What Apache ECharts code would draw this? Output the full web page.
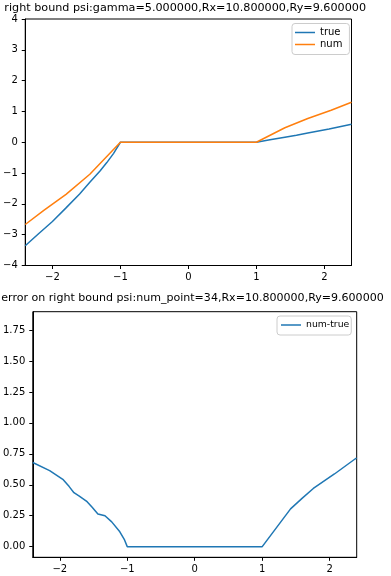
<!DOCTYPE html>
<html>
<head>
<meta charset="utf-8">
<script src="https://cdn.jsdelivr.net/npm/echarts@6/dist/echarts.min.js"></script>
<style>
html,body{margin:0;padding:0;background:#fff;}
#c{width:391px;height:576px;}
</style>
</head>
<body>
<div id="c"></div>
<script>
// ---- data ----
var title1 = "right bound psi:gamma=5.000000,Rx=10.800000,Ry=9.600000";
var title2 = "error on right bound psi:num_point=34,Rx=10.800000,Ry=9.600000";

var trueX = [-2.4, -2.2, -2.0, -1.8, -1.6, -1.45, -1.3, -1.2, -1.1, -1.0, 1.0, 1.2, 1.42, 1.59, 1.757, 2.07, 2.4];
var trueY = [-3.36, -2.96, -2.57, -2.13, -1.68, -1.30, -0.935, -0.66, -0.36, 0, 0, 0.08, 0.165, 0.23, 0.30, 0.43, 0.585];

var numX = [-2.4, -2.127, -1.8, -1.45, -1.0, 1.0, 1.42, 1.757, 2.1, 2.4];
var numY = [-2.67, -2.21, -1.69, -1.04, 0, 0, 0.47, 0.77, 1.04, 1.30];

var errX = [-2.4, -2.15, -1.955, -1.86, -1.79, -1.716, -1.595, -1.52, -1.435, -1.33, -1.23, -1.11, -1.04, -1.0, 1.0, 1.42, 1.59, 1.757, 2.07, 2.38, 2.4];
var errY = [0.68, 0.614, 0.544, 0.485, 0.436, 0.41, 0.363, 0.318, 0.264, 0.25, 0.20, 0.12, 0.054, 0, 0, 0.305, 0.39, 0.47, 0.587, 0.71, 0.715];

var xTicks = [-2, -1, 0, 1, 2];
var yTicksTop = [-4, -3, -2, -1, 0, 1, 2, 3, 4];
var yTicksBottom = [0, 0.25, 0.5, 0.75, 1.0, 1.25, 1.5, 1.75];

function zip(xs, ys) { return xs.map(function (x, i) { return [x, ys[i]]; }); }
function minus(v) { return String(v).replace('-', '\u2212'); }

var FONT = 'DejaVu Sans';
var BLUE = '#1f77b4', ORANGE = '#ff7f0e';

function xAxisCfg(gi) {
  return {
    gridIndex: gi, type: 'value', min: -2.4, max: 2.4,
    axisLine: { show: true, onZero: false, lineStyle: { color: '#000', width: 1 } },
    axisTick: { show: true, customValues: xTicks, length: 3.5, lineStyle: { color: '#000', width: 1 } },
    axisLabel: { customValues: xTicks, formatter: function (v) { return minus(v); }, fontSize: 10, color: '#000', fontFamily: FONT, margin: 7 },
    splitLine: { show: false }
  };
}

var option = {
  animation: false,
  backgroundColor: '#fff',
  graphic: [
    { type: 'text', x: 185.2, y: 8.5, style: { text: title1, textAlign: 'center', textVerticalAlign: 'middle', font: '11.2px "DejaVu Sans"', fill: '#000' } },
    { type: 'text', x: 192.5, y: 298, style: { text: title2, textAlign: 'center', textVerticalAlign: 'middle', font: '11.05px "DejaVu Sans"', fill: '#000' } }
  ],
  grid: [
    { left: 20, top: 19, width: 331.5, height: 246.5, show: true, borderColor: '#000', borderWidth: 1, backgroundColor: '#fff' },
    { left: 26.7, top: 311.7, width: 330, height: 245.6, show: true, borderColor: '#000', borderWidth: 1, backgroundColor: '#fff' }
  ],
  xAxis: [xAxisCfg(0), xAxisCfg(1)],
  yAxis: [
    {
      gridIndex: 0, type: 'value', min: -4, max: 4, interval: 1,
      axisLine: { show: true, onZero: false, lineStyle: { color: '#000', width: 1 } },
      axisTick: { show: true, length: 3.5, lineStyle: { color: '#000', width: 1 } },
      axisLabel: { formatter: function (v) { return minus(v); }, fontSize: 10, color: '#000', fontFamily: FONT, margin: 7.5 },
      splitLine: { show: false }
    },
    {
      gridIndex: 1, type: 'value', min: -0.086, max: 1.898,
      axisLine: { show: true, onZero: false, lineStyle: { color: '#000', width: 1 } },
      axisTick: { show: true, customValues: yTicksBottom, length: 3.5, lineStyle: { color: '#000', width: 1 } },
      axisLabel: { customValues: yTicksBottom, formatter: function (v) { return v.toFixed(2); }, fontSize: 10, color: '#000', fontFamily: FONT, margin: 7.5 },
      splitLine: { show: false }
    }
  ],
  legend: [
    {
      data: ['true', 'num'], orient: 'vertical', left: 292, top: 23.5,
      icon: 'rect', itemWidth: 20, itemHeight: 1.5, itemGap: 0,
      padding: [3, 7, 4, 3], backgroundColor: '#fff', borderColor: '#ccc', borderWidth: 1, borderRadius: 3,
      textStyle: { fontSize: 10, color: '#000', fontFamily: FONT, lineHeight: 12 }
    },
    {
      data: ['num-true'], orient: 'vertical', left: 277, top: 316,
      icon: 'rect', itemWidth: 20, itemHeight: 1.5, itemGap: 0,
      padding: [3, 2, 4, 4], backgroundColor: '#fff', borderColor: '#ccc', borderWidth: 1, borderRadius: 3,
      textStyle: { fontSize: 9.3, color: '#000', fontFamily: FONT, lineHeight: 12 }
    }
  ],
  series: [
    { name: 'true', type: 'line', xAxisIndex: 0, yAxisIndex: 0, data: zip(trueX, trueY), showSymbol: false, symbol: 'none', color: BLUE, lineStyle: { width: 1.5, color: BLUE } },
    { name: 'num', type: 'line', xAxisIndex: 0, yAxisIndex: 0, data: zip(numX, numY), showSymbol: false, symbol: 'none', color: ORANGE, lineStyle: { width: 1.5, color: ORANGE } },
    { name: 'num-true', type: 'line', xAxisIndex: 1, yAxisIndex: 1, data: zip(errX, errY), showSymbol: false, symbol: 'none', color: BLUE, lineStyle: { width: 1.5, color: BLUE } }
  ]
};

var chart = echarts.init(document.getElementById('c'), null, { renderer: 'canvas' });
chart.setOption(option);
</script>
</body>
</html>
